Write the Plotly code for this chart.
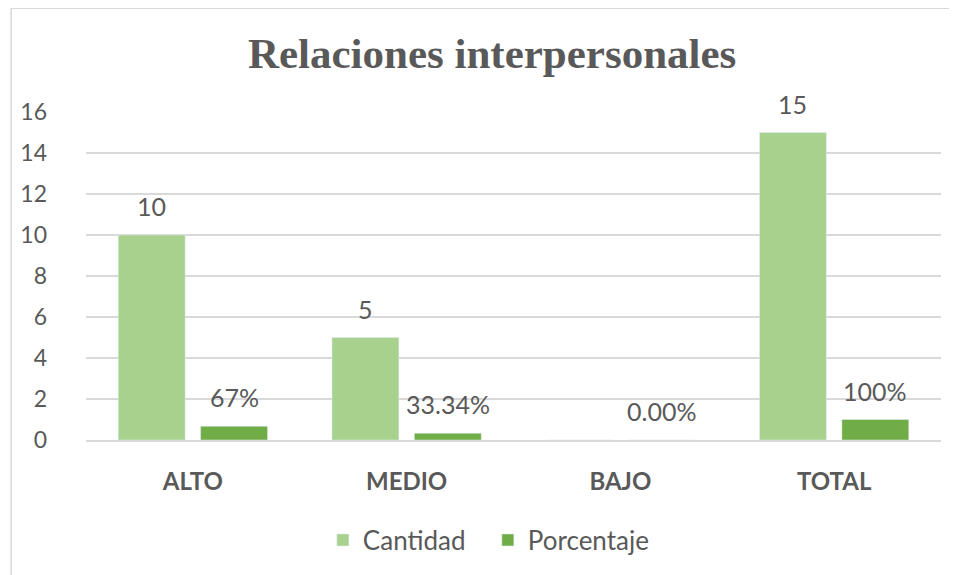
"""Relaciones interpersonales - grouped bar chart."""

import plotly.graph_objects as go

C_TEXT = "#595959"
C_GRID = "#D9D9D9"
C_CANT = "#A9D18E"
C_PORC = "#70AD47"
SANS = "Lato, Carlito, sans-serif"

niveles = ["ALTO", "MEDIO", "BAJO", "TOTAL"]
cantidad = [10, 5, 0, 15]
porcentaje = [0.67, 0.3334, 0.0, 1.0]
etiquetas_cant = ["10", "5", "", "15"]
etiquetas_porc = ["67%", "33.34%", "0.00%", "100%"]

fig = go.Figure()
fig.add_trace(go.Bar(name="Cantidad", x=niveles, y=cantidad, marker_color=C_CANT))
fig.add_trace(go.Bar(name="Porcentaje", x=niveles, y=porcentaje, marker_color=C_PORC))

# data labels sit a bit higher above the bars than plotly's outside text does
for serie, valores, etiquetas in (
    (-1, cantidad, etiquetas_cant),
    (1, porcentaje, etiquetas_porc),
):
    for nivel, v, txt in zip(niveles, valores, etiquetas):
        if not txt:
            continue
        fig.add_annotation(
            x=nivel,
            y=v,
            xshift=serie * 41.25,
            yshift=29,
            yanchor="middle",
            text=txt,
            showarrow=False,
            font=dict(family=SANS, size=25, color=C_TEXT),
        )

fig.update_layout(
    width=949,
    height=567,
    barmode="group",
    bargap=0.229,
    bargroupgap=0.188,
    paper_bgcolor="white",
    plot_bgcolor="white",
    margin=dict(l=76, r=16, t=104, b=131),
    title=dict(
        text="<b>Relaciones interpersonales</b>",
        xref="paper",
        x=0.475,
        xanchor="center",
        y=0.921,
        yanchor="middle",
        font=dict(family="Liberation Serif, Times New Roman, serif", size=43, color=C_TEXT),
    ),
    font=dict(family=SANS, color=C_TEXT),
    legend=dict(
        orientation="h",
        x=0.47,
        xanchor="center",
        y=-0.305,
        yanchor="middle",
        font=dict(size=26, color=C_TEXT),
        itemwidth=30,
        entrywidth=120,
        traceorder="normal",
    ),
    xaxis=dict(
        showgrid=False,
        showline=True,
        linecolor=C_GRID,
        linewidth=2,
        ticks="",
        tickfont=dict(size=24, color=C_TEXT, family=SANS, weight="bold"),
        ticklabelstandoff=19,
    ),
    yaxis=dict(
        range=[0, 16],
        dtick=2,
        showgrid=True,
        gridcolor=C_GRID,
        gridwidth=1.5,
        zeroline=False,
        showline=False,
        ticks="",
        tickfont=dict(size=23, color=C_TEXT),
        ticklabelstandoff=38,
    ),
    shapes=[
        dict(
            type="rect",
            xref="paper",
            yref="paper",
            x0=-0.0875,
            x1=1.05,
            y0=-0.5,
            y1=1.316,
            line=dict(color=C_GRID, width=1.5),
            fillcolor="rgba(0,0,0,0)",
            layer="below",
        )
    ],
)

fig.write_html("out.html")
